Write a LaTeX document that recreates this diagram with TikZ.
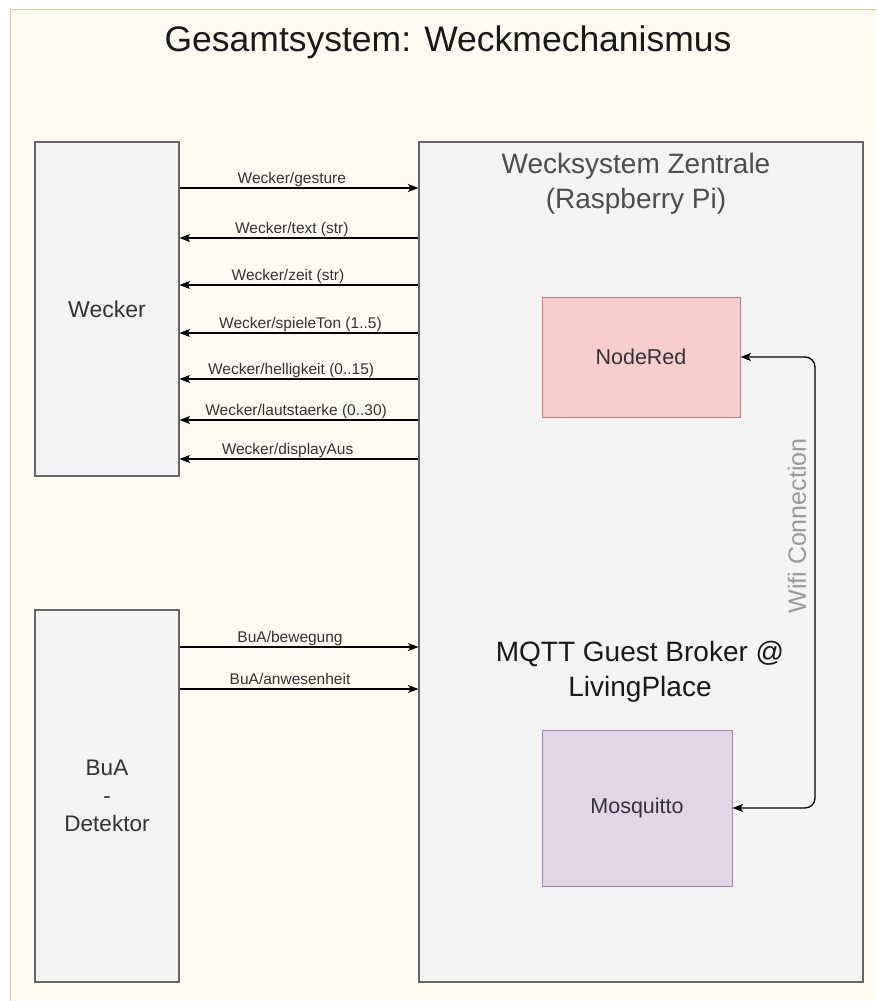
\documentclass[tikz,border=0pt]{standalone}
\usepackage{fontspec}
\setmainfont{Liberation Sans}[Ligatures=NoCommon]
\usetikzlibrary{arrows.meta}
\definecolor{framefill}{HTML}{FEFCF0}
\definecolor{framedraw}{HTML}{DCCB8E}
\definecolor{boxfill}{HTML}{F4F4F4}
\definecolor{boxdraw}{HTML}{666666}
\definecolor{redfill}{HTML}{F8CECC}
\definecolor{reddraw}{HTML}{C27C79}
\definecolor{purplefill}{HTML}{E1D5E7}
\definecolor{purpledraw}{HTML}{9F84AE}
\definecolor{txt}{HTML}{333333}
\definecolor{ztxt}{HTML}{4D4D4D}
\definecolor{wifitxt}{HTML}{999999}
\begin{document}
\begin{tikzpicture}[x=1pt,y=-1pt,
  box/.style={draw=boxdraw, fill=boxfill, line width=1.1pt, inner sep=0pt, text=txt},
  tip/.tip={Stealth[length=10.5pt,width=8pt,inset=2.5pt]},
  arr/.style={draw=black, line width=1.3pt, -tip},
  lbl/.style={font=\fontsize{15.5}{18}\selectfont, text=txt, inner sep=0pt, anchor=base, yshift=4.5pt}
]
\useasboundingbox (0,0) rectangle (876,1001);
\clip (0,0) rectangle (876,1001);
\fill[white] (0,0) rectangle (876,1001);
\draw[draw=framedraw, fill=framefill, line width=1pt] (10,9) rectangle (900,1030);

\node[font=\fontsize{35.5}{40}\selectfont, anchor=base, text=black!90, inner sep=0pt] (title) at (448,51) {Gesamtsystem: Weckmechanismus};

\node[box, minimum width=144pt, minimum height=334pt, font=\fontsize{23}{27}\selectfont] (wecker) at (107,309) {Wecker};
\node[box, minimum width=144pt, minimum height=372pt, align=center, font=\fontsize{22.5}{28}\selectfont] (bua) at (107,796) {BuA\\-\\Detektor};
\node[box, minimum width=444pt, minimum height=840pt] (zentrale) at (641,562) {};

\node[font=\fontsize{28}{34.5}\selectfont, text=ztxt, align=center, inner sep=0pt] (ztitle) at (636,184) {Wecksystem Zentrale\\(Raspberry Pi)};
\node[font=\fontsize{28}{34.5}\selectfont, text=black!90, align=center, inner sep=0pt] (mqtt) at (640,672) {MQTT Guest Broker @\\LivingPlace};

\node[draw=reddraw, fill=redfill, line width=1pt, minimum width=198pt, minimum height=120pt, inner sep=0pt, font=\fontsize{21.5}{26}\selectfont, text=txt] (nodered) at (641,357) {NodeRed};
\node[draw=purpledraw, fill=purplefill, line width=1pt, minimum width=190pt, minimum height=156pt, inner sep=0pt, font=\fontsize{21.5}{26}\selectfont, text=txt] (mosq) at (637,808) {Mosquitto};

\coordinate (wifi) at (815,582);
\draw[line width=1.3pt, rounded corners=10pt, tip-tip] (nodered.east) -| (wifi) |- (mosq.east);
\node[rotate=90, font=\fontsize{25}{30}\selectfont, text=wifitxt, inner sep=0pt] (wifilbl) at (797,526) {Wifi Connection};

\coordinate (y1) at (0,188);
\coordinate (y2) at (0,238);
\coordinate (y3) at (0,285);
\coordinate (y4) at (0,333);
\coordinate (y5) at (0,379);
\coordinate (y6) at (0,420);
\coordinate (y7) at (0,459);
\coordinate (y8) at (0,647);
\coordinate (y9) at (0,689);

\draw[arr] (wecker.east |- y1) -- node[lbl, pos=0.47] {Wecker/gesture} (zentrale.west |- y1);
\draw[arr] (zentrale.west |- y2) -- node[lbl, pos=0.53] {Wecker/text (str)} (wecker.east |- y2);
\draw[arr] (zentrale.west |- y3) -- node[lbl, pos=0.546] {Wecker/zeit (str)} (wecker.east |- y3);
\draw[arr] (zentrale.west |- y4) -- node[lbl, pos=0.494] {Wecker/spieleTon (1..5)} (wecker.east |- y4);
\draw[arr] (zentrale.west |- y5) -- node[lbl, pos=0.533] {Wecker/helligkeit (0..15)} (wecker.east |- y5);
\draw[arr] (zentrale.west |- y6) -- node[lbl, pos=0.512] {Wecker/lautstaerke (0..30)} (wecker.east |- y6);
\draw[arr] (zentrale.west |- y7) -- node[lbl, pos=0.548] {Wecker/displayAus} (wecker.east |- y7);
\draw[arr] (bua.east |- y8) -- node[lbl, pos=0.4625] {BuA/bewegung} (zentrale.west |- y8);
\draw[arr] (bua.east |- y9) -- node[lbl, pos=0.4625] {BuA/anwesenheit} (zentrale.west |- y9);
\end{tikzpicture}
\end{document}
